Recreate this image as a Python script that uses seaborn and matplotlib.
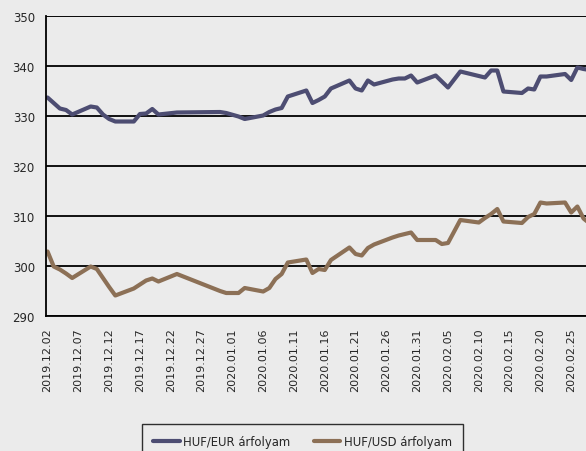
import pandas as pd
import numpy as np
import matplotlib
matplotlib.use("Agg")
import matplotlib.pyplot as plt
import matplotlib.dates as mdates
import seaborn as sns

dates = [
    "2019-12-02", "2019-12-03", "2019-12-04", "2019-12-05", "2019-12-06",
    "2019-12-09", "2019-12-10", "2019-12-11", "2019-12-12", "2019-12-13",
    "2019-12-16", "2019-12-17", "2019-12-18", "2019-12-19", "2019-12-20",
    "2019-12-23", "2019-12-30", "2019-12-31",
    "2020-01-02", "2020-01-03", "2020-01-06", "2020-01-07", "2020-01-08",
    "2020-01-09", "2020-01-10", "2020-01-13", "2020-01-14", "2020-01-15",
    "2020-01-16", "2020-01-17", "2020-01-20", "2020-01-21", "2020-01-22",
    "2020-01-23", "2020-01-24", "2020-01-27", "2020-01-28", "2020-01-29",
    "2020-01-30", "2020-01-31",
    "2020-02-03", "2020-02-04", "2020-02-05", "2020-02-06", "2020-02-07",
    "2020-02-10", "2020-02-11", "2020-02-12", "2020-02-13", "2020-02-14",
    "2020-02-17", "2020-02-18", "2020-02-19", "2020-02-20", "2020-02-21",
    "2020-02-24", "2020-02-25", "2020-02-26", "2020-02-27", "2020-02-28",
]

huf_eur = [
    333.7, 332.6, 331.5, 331.2, 330.3,
    331.9, 331.7, 330.3, 329.4, 328.9,
    328.9, 330.4, 330.5, 331.4, 330.3,
    330.7, 330.8, 330.6,
    329.9, 329.4, 330.1, 330.8, 331.3,
    331.6, 333.9, 335.1, 332.6, 333.2,
    333.9, 335.5, 337.1, 335.5, 335.1,
    337.1, 336.3, 337.3, 337.5, 337.5,
    338.1, 336.7,
    338.1, 336.9, 335.7, 337.3, 338.9,
    338.0, 337.7, 339.1, 339.1, 334.9,
    334.6, 335.5, 335.3, 337.9, 337.9,
    338.4, 337.2, 339.7, 339.4, 339.2,
]

huf_usd = [
    302.9, 299.9, 299.3, 298.5, 297.6,
    299.9, 299.4, 297.6, 295.8, 294.1,
    295.5, 296.3, 297.1, 297.5, 296.9,
    298.4, 295.0, 294.6,
    294.6, 295.6, 294.9, 295.6, 297.4,
    298.4, 300.7, 301.3, 298.6, 299.4,
    299.2, 301.2, 303.7, 302.4, 302.1,
    303.6, 304.3, 305.7, 306.1, 306.4,
    306.7, 305.2,
    305.2, 304.4, 304.6, 306.9, 309.2,
    308.7, 309.6, 310.4, 311.4, 308.9,
    308.6, 309.8, 310.4, 312.7, 312.5,
    312.7, 310.7, 311.9, 309.5, 308.5,
]

series_names = ["HUF/EUR árfolyam", "HUF/USD árfolyam"]
series_colors = ["#4D4D72", "#8C7056"]

df = pd.DataFrame({
    "date": pd.to_datetime(dates),
    series_names[0]: huf_eur,
    series_names[1]: huf_usd,
})
long_df = df.melt(id_vars="date", var_name="series", value_name="value")

bg = "#EBEBEB"
sns.set_style("white", {"axes.facecolor": bg, "figure.facecolor": bg})
plt.rcParams["font.family"] = ["DejaVu Sans"]

fig = plt.figure(figsize=(5.86, 4.52), dpi=100)
ax = fig.add_axes([46 / 586, 1 - 317 / 452, 540 / 586, 300 / 452])

sns.lineplot(data=long_df, x="date", y="value", hue="series",
             palette=series_colors, linewidth=3, ax=ax, legend=False)

ax.set_ylim(290, 350)
ax.set_yticks([290, 300, 310, 320, 330, 340, 350])
start = pd.Timestamp("2019-12-02")
ax.set_xlim(start - pd.Timedelta(hours=6), start + pd.Timedelta(days=87.4))
ax.set_xticks(pd.date_range("2019-12-02", "2020-02-25", freq="5D"))
ax.xaxis.set_major_formatter(mdates.DateFormatter("%Y.%m.%d"))

ax.grid(axis="y", color="black", linewidth=1.3)
ax.set_axisbelow(True)
for s in ["top", "right"]:
    ax.spines[s].set_visible(False)
ax.spines["left"].set_color("black")
ax.spines["bottom"].set_color("black")
ax.spines["left"].set_linewidth(1.3)
ax.spines["bottom"].set_linewidth(1.3)
ax.axhline(350, color="#777777", linewidth=1.3, zorder=0)

ax.tick_params(axis="y", direction="out", length=4, width=1.2, color="black",
               labelsize=8.5, pad=4)
ax.tick_params(axis="x", direction="out", length=4, width=1.2, color="black",
               labelsize=8, pad=4, labelrotation=90)
ax.set_xlabel("")
ax.set_ylabel("")

handles = [plt.Line2D([], [], color=c, linewidth=3) for c in series_colors]
leg = fig.legend(handles, series_names, loc="upper center",
                 bbox_to_anchor=(0.516, 1 - 425 / 452), ncol=2, fontsize=8.4,
                 frameon=True, fancybox=False, borderpad=0.95,
                 borderaxespad=0, handlelength=2.3, handletextpad=0.3,
                 columnspacing=2.0)
leg.get_frame().set_edgecolor("black")
leg.get_frame().set_facecolor(bg)
leg.get_frame().set_linewidth(1.0)

fig.savefig("out.png", dpi=100, facecolor=bg)
